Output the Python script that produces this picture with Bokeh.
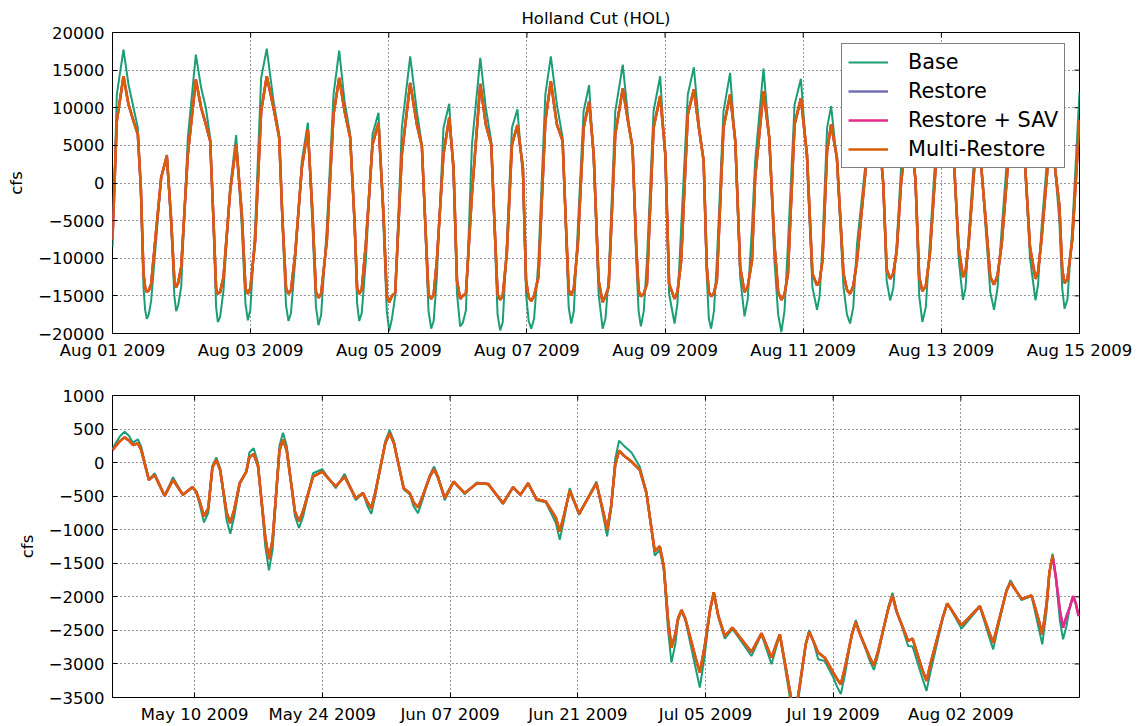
import math
import pandas as pd
from bokeh.plotting import figure
from bokeh.layouts import column
from bokeh.models import (FixedTicker, DatetimeTickFormatter, Range1d, Legend, LegendItem,
                          BasicTickFormatter)
from bokeh.embed import file_html
from bokeh.resources import INLINE

# ---------------- data ----------------
TITLE = "Holland Cut (HOL)"
SERIES = ["Base", "Restore", "Restore + SAV", "Multi-Restore"]
COLORS = ["#1b9e77", "#7570b3", "#e7298a", "#d95f02"]

# top panel: hours after 2009-08-01 00:00, flow in cfs
top_start = "2009-08-01"
top_end = "2009-08-15"
top_hours = [0.0, 1.5, 3.82, 5.56, 7.3, 8.8, 9.85, 10.77, 11.93, 13.44, 15.06, 16.91, 18.88, 20.4,
             22.12, 23.86, 26.18, 28.96, 30.8, 32.43, 33.94, 35.1, 36.6, 38.57, 40.89, 42.97,
             44.94, 47.03, 49.57, 51.66, 53.6, 55.95, 57.92, 59.08, 61.16, 63.48, 65.79, 67.88,
             69.5, 71.58, 74.48, 76.8, 78.77, 80.62, 82.59, 84.1, 85.72, 88.03, 90.35, 92.43,
             94.17, 96.14, 98.23, 100.54, 103.44, 105.75, 107.49, 108.65, 110.74, 112.7, 115.0,
             117.0, 118.5, 119.7, 120.8, 122.8, 124.9, 127.8, 129.7, 131.6, 132.7, 134.7, 137.0,
             138.8, 140.7, 142.6, 143.7, 145.5, 148.0, 150.4, 152.3, 154.4, 156.4, 157.5, 159.4,
             161.7, 163.7, 165.6, 167.2, 168.9, 170.3, 172.4, 174.7, 177.3, 179.3, 180.7, 182.0,
             183.6, 185.7, 188.0, 190.3, 192.1, 193.4, 195.3, 197.6, 199.9, 202.0, 203.9, 205.4,
             206.5, 208.0, 210.0, 212.3, 214.6, 216.4, 218.1, 219.6, 222.2, 223.3, 226.2, 228.2,
             230.0, 232.4, 234.7, 237.0, 239.2, 241.3, 243.2, 244.8, 246.7, 248.3, 249.7, 251.7,
             254.0, 256.3, 258.7, 261.5, 264.2, 266.2, 267.8, 270.2, 272.5, 274.0, 276.6, 279.0,
             281.4, 284.0, 286.0, 289.1, 292.0, 294.0, 295.5, 297.5, 300.6, 303.2, 306.3, 309.0,
             313.1, 317.0, 318.8, 320.7, 322.8, 326.0, 329.0, 330.8, 333.5, 336.0]
top_base = [-8500, 11770, 17720, 13090, 10000, 7350, -1460, -13840, -18040, -15600, -8100, 730,
            3730, -5890, -17020, -13840, 6030, 17060, 12650, 10000, 6030, -5890, -18470, -14280,
            -600, 6380, -5890, -18250, -5890, 13970, 17860, 10890, 6470, -5890, -18340, -10300,
            2940, 8010, -5890, -18900, -5890, 11770, 17590, 10890, 6500, -5890, -18340, -10300,
            6470, 9340, -5890, -19670, -15000, 7350, 16840, 9560, 5140, -5890, -19360, -12500,
            7350, 10530, 730, -14720, -19050, -16930, 5140, 16620, 10000, 5590, -5890, -19580,
            -8100, 7350, 9780, 730, -14720, -19360, -10300, 11770, 16840, 10440, 6030, -5890,
            -18670, -5890, 9560, 13000, 2940, -14720, -19360, -12500, 9560, 15740, 8230, 4700,
            -10300, -19050, -10300, 9560, 14190, 2940, -14720, -18670, -5890, 11770, 15380, 7350,
            2940, -12500, -19360, -10300, 9560, 14630, 5140, -12500, -17720, -5890, 2940, 15210,
            6030, -10300, -19800, -8100, 10440, 13840, 2940, -13840, -16840, -8100, 7350, 10220,
            2940, -13840, -18670, -8100, 2000, 15000, 8000, 0, -15600, -8000, 2000, 11000, 0,
            -18470, -8000, 4000, 15000, 6000, -10000, -15520, -7000, 10000, -5000, -16840, -6000,
            15000, 3000, -10000, -15600, -6000, 9000, -5000, -16710, -6000, 12100]
top_restore = [-7500, 8230, 14190, 10440, 8230, 6470, -600, -12060, -14500, -13400, -6760, 730,
               3600, -5010, -13840, -11190, 3820, 13750, 10000, 7790, 5590, -5010, -14720, -12510,
               -1040, 5140, -4130, -14720, -7650, 9560, 14190, 9990, 6030, -5010, -14720, -9420,
               2050, 7130, -4130, -15250, -7640, 9120, 13970, 9560, 6000, -5010, -14720, -8100,
               5140, 8010, -4130, -15830, -14600, 3820, 13310, 7790, 4920, -5010, -15390, -10300,
               3820, 8680, 2050, -12960, -15390, -14720, -1460, 13180, 7790, 5140, -5010, -15520,
               -9420, 5140, 7700, 2050, -12960, -15700, -12500, 8230, 13530, 7790, 5590, -5010,
               -14940, -8100, 7350, 10800, 3820, -12960, -15830, -13840, 6470, 12560, 7790, 4700,
               -8540, -15080, -13400, 7350, 11550, 3820, -13400, -15390, -10300, 9120, 12430, 6910,
               2940, -11190, -15080, -12960, 7350, 11770, 5590, -11190, -14500, -10300, 730, 12210,
               6030, -8100, -15520, -12060, 7790, 11240, 3820, -12060, -13600, -10300, 4280, 7790,
               3400, -12060, -14720, -10300, 1000, 12000, 7000, 0, -12730, -9000, 0, 9000, 500,
               -14370, -9500, 2000, 12000, 5500, -8500, -12500, -8000, 8000, -4000, -13510, -8000,
               12000, 3000, -8500, -12730, -7500, 7000, -3000, -13310, -7500, 8400]
# extra readings on the rounded low-water bottoms
top_hours_extra = [11.35, 12.6, 21.5, 22.8, 36.0, 37.4, 46.2, 47.9, 60.3, 62.0, 70.7, 72.5,
                   85.0, 86.6, 95.3, 97.1, 109.8, 111.6, 121.7, 133.8, 135.6, 144.6, 146.5,
                   158.5, 160.3, 171.3, 182.8, 184.6, 196.3, 207.2, 209.0, 220.7, 231.3, 233.5,
                   245.7, 255.2, 257.4, 269.0, 271.3, 280.3, 282.6, 296.4, 305.0, 307.5, 321.6,
                   330.0, 331.8]
top_base_extra = [-16900, -17500, -15000, -16300, -16500, -17800, -16000, -16800, -16300, -17300,
                  -16500, -17500, -16000, -17300, -17000, -18000, -17000, -18300, -18600, -17500,
                  -18500, -18300, -18000, -16500, -17000, -18000, -17000, -17000, -16000, -18000,
                  -17000, -15500, -17500, -17000, -15000, -17500, -16500, -13000, -14000, -15000,
                  -16500, -14000, -14500, -14000, -13500, -14000, -15500]
top_restore_extra = [-13900, -14300, -13000, -13300, -14000, -14500, -14000, -14000, -14000,
                     -14300, -14500, -14700, -14000, -14200, -15000, -15000, -14800, -14800,
                     -15000, -14800, -15000, -15200, -15000, -14200, -14000, -15000, -14300,
                     -14700, -14500, -14500, -14600, -13800, -14500, -14800, -13000, -14200,
                     -13700, -11500, -12000, -12500, -13700, -11800, -12500, -12300, -11800,
                     -11500, -12800]
top_xticks = ["2009-08-01", "2009-08-03", "2009-08-05", "2009-08-07", "2009-08-09",
              "2009-08-11", "2009-08-13", "2009-08-15"]
top_yticks = [-20000, -15000, -10000, -5000, 0, 5000, 10000, 15000, 20000]

# bottom panel: days after 2009-05-01, tidally filtered flow in cfs
bot_start = "2009-05-01"
bot_end = "2009-08-15"
bot_days = [0.0, 1.33, 2.24, 2.79, 3.15, 3.99, 4.62, 5.71, 6.63, 7.72, 8.75, 9.18, 10.03, 11.38,
            12.91, 13.94, 14.67, 15.47, 17.15, 18.69, 20.44, 21.98, 23.0, 24.46, 25.45, 26.66,
            27.46, 28.37, 30.38, 31.92, 32.58, 33.49, 35.25, 36.42, 37.4, 38.6, 39.96, 41.17,
            42.81, 43.91, 44.71, 45.56, 46.47, 47.49, 49.03, 50.12, 51.15, 53.05, 54.22, 55.53,
            56.89, 57.8, 58.53, 59.44, 59.99, 60.43, 61.27, 62.37, 64.38, 65.91, 67.12, 67.96,
            70.04, 71.14, 72.24, 73.15, 74.7, 75.16, 76.37, 77.35, 78.08, 79.0, 79.84, 81.48,
            83.46, 85.5, 87.22, 87.7, 89.23, 91.5, 93.07, 95.08, 96.54, 98.44, 99.65, 100.75,
            101.92, 103.05, 104.2, 105.3, 105.9]
bot_base = [213, 460, 297, 347, 238, -257, -158, -495, -218, -480, -366, -431, -891, 79, -1059,
            -330, -134, 213, -1604, 446, -975, -158, -99, -380, -168, -560, -450, -762, 485, -400,
            -470, -752, -59, -560, -282, -470, -297, -317, -620, -366, -480, -307, -560, -590,
            -1148, -381, -780, -282, -1099, 327, 149, -60, -430, -1386, -1300, -1600, -2980,
            -2213, -3351, -1931, -2624, -2480, -2881, -2560, -3005, -2560, -3900, -3550, -2495,
            -2930, -2955, -3200, -3450, -2346, -3089, -1940, -2732, -2740, -3401, -2099, -2475,
            -2150, -2782, -1752, -2050, -1990, -2708, -1356, -2633, -1990, -2287]
bot_restore = [188, 376, 262, 287, 188, -257, -183, -495, -257, -480, -366, -431, -802, 40, -901,
               -307, -134, 129, -1436, 347, -876, -208, -134, -356, -208, -530, -455, -678, 436,
               -381, -455, -668, -99, -530, -282, -455, -307, -317, -604, -366, -480, -307, -545,
               -579, -1025, -416, -762, -307, -1000, 178, 15, -109, -455, -1322, -1247, -1544,
               -2757, -2198, -3128, -1931, -2584, -2460, -2822, -2544, -2906, -2559, -3800, -3475,
               -2524, -2831, -2906, -3128, -3302, -2376, -3020, -1980, -2658, -2624, -3252, -2099,
               -2426, -2138, -2683, -1782, -2030, -1980, -2559, -1386, -2460, -1990, -2287]
# extra readings around the rounded turning points
bot_days_extra = [0.8, 1.8, 9.6, 10.5, 10.95, 11.8, 12.5, 13.35, 15.0, 15.95, 16.75, 17.55, 18.3,
                  19.1, 20.0, 20.9, 27.95, 28.8, 29.9, 30.85, 33.0, 34.0, 34.8, 35.7, 48.6, 49.5,
                  53.8, 54.65, 55.1, 56.0, 60.9, 61.7, 62.0, 62.8, 63.9, 64.9, 65.5, 66.4, 74.25,
                  76.0, 76.8, 79.4, 80.3, 81.05, 81.95, 83.0, 83.95, 85.05, 85.95, 88.75, 89.7,
                  91.05, 91.95, 96.1, 97.0, 98.0, 98.9, 101.5, 102.4, 102.7, 103.4, 103.85, 104.55,
                  104.95, 105.6]
bot_base_extra = [390, 400, -650, -750, -50, -80, -850, -800, 150, 0, -1250, -1300, 250, 250, -800,
                  -800, -650, -500, 320, 320, -650, -550, -180, -200, -900, -850, -800, -700, 50,
                  260, -2500, -2700, -2350, -2350, -3050, -2900, -2200, -2300, -3500, -2700, -2650,
                  -3330, -3150, -2550, -2550, -2950, -2850, -2150, -2200, -3200, -3100, -2300,
                  -2200, -2600, -2500, -1900, -1870, -2450, -2200, -1650, -1700, -2350, -2450,
                  -2150, -2100]
bot_restore_extra = [320, 330, -600, -680, -70, -110, -740, -700, 80, -50, -1120, -1150, 180, 180,
                     -730, -720, -590, -450, 290, 290, -590, -500, -200, -230, -820, -780, -740,
                     -660, -40, 110, -2350, -2550, -2320, -2330, -2900, -2750, -2200, -2280, -3400,
                     -2700, -2650, -3220, -3050, -2560, -2560, -2900, -2800, -2170, -2220, -3080,
                     -2980, -2290, -2190, -2530, -2440, -1910, -1880, -2330, -2100, -1640, -1700,
                     -2200, -2300, -2150, -2100]
bot_multi_last_day = 103.05  # Multi-Restore record ends at the peak near Aug 12
bot_xticks = ["2009-05-10", "2009-05-24", "2009-06-07", "2009-06-21", "2009-07-05",
              "2009-07-19", "2009-08-02"]
bot_yticks = [-3500, -3000, -2500, -2000, -1500, -1000, -500, 0, 500, 1000]

# ---------------- helpers ----------------
FONT = "DejaVu Sans"
TICK_SIZE = "16.5px"


def ms(ts):
    return pd.Timestamp(ts).value / 1e6


def merged(keys, a, b, keys_x, a_x, b_x):
    rows = sorted(zip(list(keys) + list(keys_x), list(a) + list(a_x), list(b) + list(b_x)))
    return [r[0] for r in rows], [r[1] for r in rows], [r[2] for r in rows]


def style_fig(p, xticks, yticks, x_end, y_end):
    xt = FixedTicker(ticks=[ms(t) for t in xticks])
    yt = FixedTicker(ticks=yticks)
    fmt = "%b %d %Y"
    dfmt = DatetimeTickFormatter(days=fmt, months=fmt, hours=fmt, years=fmt,
                                 hourmin=fmt, minutes=fmt)
    p.xaxis.ticker = xt
    p.xaxis.formatter = dfmt
    p.yaxis.ticker = yt
    p.yaxis.formatter = BasicTickFormatter(use_scientific=False)
    for ax in p.axis:
        ax.axis_line_color = None
        ax.major_tick_in = 5
        ax.major_tick_out = 0
        ax.major_tick_line_color = "black"
        ax.minor_tick_line_color = None
        ax.major_label_text_font = FONT
        ax.major_label_text_font_size = TICK_SIZE
        ax.major_label_text_color = "black"
        ax.axis_label_text_font = FONT
        ax.axis_label_text_font_size = TICK_SIZE
        ax.axis_label_text_font_style = "normal"
        ax.axis_label_text_color = "black"
    p.xaxis.major_label_standoff = 7
    p.yaxis.major_label_standoff = 8
    p.yaxis.axis_label = "cfs"
    p.yaxis.axis_label_standoff = 9
    # inward ticks on the right and top frame edges (half of each dash is clipped by the frame)
    p.scatter([ms(x_end)] * len(yticks), yticks, marker="dash", size=10,
              line_color="black", line_width=1)
    p.scatter([ms(t) for t in xticks], [y_end] * len(xticks), marker="dash", size=10,
              angle=math.pi / 2, line_color="black", line_width=1)
    p.xgrid.ticker = xt
    p.ygrid.ticker = yt
    p.grid.grid_line_color = "black"
    p.grid.grid_line_dash = "1 3"
    p.grid.grid_line_alpha = 0.8
    p.grid.grid_line_width = 1
    p.outline_line_color = "black"
    p.outline_line_width = 1
    p.background_fill_color = "white"
    p.border_fill_color = "white"


widths = [2, 2.5, 2.5, 2.5]

# ---------------- top panel ----------------
th, tb, tr = merged(top_hours, top_base, top_restore, top_hours_extra, top_base_extra,
                    top_restore_extra)
t0 = pd.Timestamp(top_start)
top_x = [t0 + pd.Timedelta(hours=h) for h in th]
top_vals = [tb, tr, list(tr), list(tr)]  # Restore, Restore + SAV, Multi-Restore coincide here

p1 = figure(width=1139, height=362, x_axis_type="datetime", output_backend="svg",
            toolbar_location=None, min_border_left=112, min_border_right=60,
            min_border_top=32, min_border_bottom=28,
            x_range=Range1d(pd.Timestamp(top_start), pd.Timestamp(top_end)),
            y_range=Range1d(top_yticks[0], top_yticks[-1]))
p1.title.text = TITLE
p1.title.align = "center"
p1.title.text_font = FONT
p1.title.text_font_size = "16.5px"
p1.title.text_font_style = "normal"
p1.title.text_color = "black"
style_fig(p1, top_xticks, top_yticks, top_end, top_yticks[-1])

renderers = []
for vals, c, w in zip(top_vals, COLORS, widths):
    renderers.append(p1.line(top_x, vals, line_color=c, line_width=w))

legend = Legend(items=[LegendItem(label=s, renderers=[r]) for s, r in zip(SERIES, renderers)],
                location=(729, 165))
legend.label_text_font = FONT
legend.label_text_font_size = "20.8px"
legend.label_text_color = "black"
legend.glyph_width = 40
legend.glyph_height = 20
legend.label_height = 20
legend.spacing = 5
legend.padding = 6
legend.margin = 0
legend.label_standoff = 20
legend.border_line_color = "black"
legend.border_line_width = 1
legend.background_fill_color = "white"
legend.background_fill_alpha = 1.0
p1.add_layout(legend)

# ---------------- bottom panel ----------------
bd, bb, br = merged(bot_days, bot_base, bot_restore, bot_days_extra, bot_base_extra,
                    bot_restore_extra)
b0 = pd.Timestamp(bot_start)
bot_x = [b0 + pd.Timedelta(days=d) for d in bd]
n_multi = sum(1 for d in bd if d <= bot_multi_last_day)

p2 = figure(width=1139, height=364, x_axis_type="datetime", output_backend="svg",
            toolbar_location=None, min_border_left=112, min_border_right=60,
            min_border_top=33, min_border_bottom=29,
            x_range=Range1d(pd.Timestamp(bot_start), pd.Timestamp(bot_end)),
            y_range=Range1d(bot_yticks[0], bot_yticks[-1]))
style_fig(p2, bot_xticks, bot_yticks, bot_end, bot_yticks[-1])
bot_series = [(bot_x, bb), (bot_x, br), (bot_x, list(br)), (bot_x[:n_multi], br[:n_multi])]
for (xs, vals), c, w in zip(bot_series, COLORS, widths):
    p2.line(xs, vals, line_color=c, line_width=w)

layout = column(p1, p2, spacing=0)
open("out.html", "w").write(file_html(layout, INLINE))
